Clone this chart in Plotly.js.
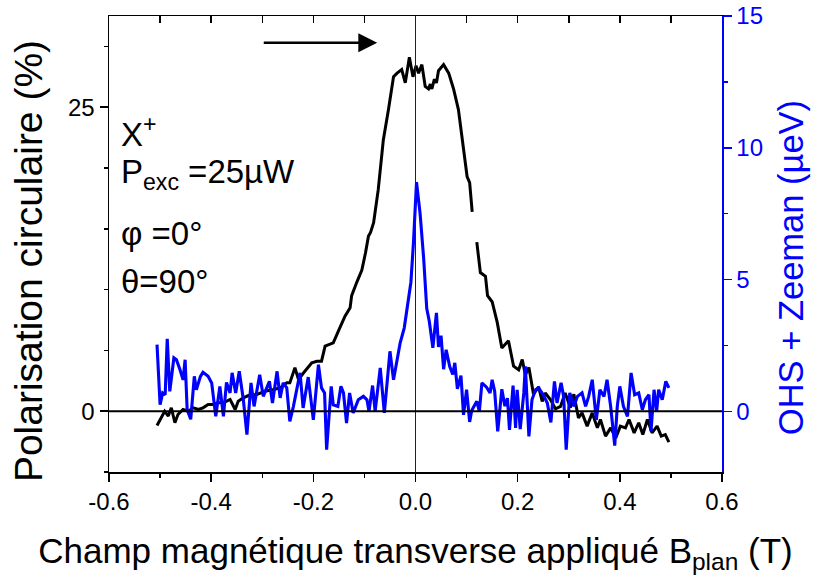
<!DOCTYPE html>
<html>
<head>
<meta charset="utf-8">
<script src="https://cdn.plot.ly/plotly-3.0.1.min.js"></script>
<style>html,body{margin:0;padding:0;background:#fff;}#chart{width:814px;height:583px;}</style>
</head>
<body>
<div id="chart"></div>
<script>
// Circular polarisation (%) vs transverse field (T) — left axis
const fieldPol = [-0.506,-0.497,-0.491,-0.484,-0.478,-0.471,-0.465,-0.455,-0.445,-0.435,-0.425,-0.416,-0.406,-0.396,-0.386,-0.376,-0.363,-0.353,-0.347,-0.337,-0.327,-0.311,-0.295,-0.278,-0.265,-0.252,-0.246,-0.236,-0.229,-0.219,-0.203,-0.193,-0.184,-0.177,-0.167,-0.161,-0.151,-0.138,-0.128,-0.125,-0.115,-0.105,-0.098,-0.092,-0.088,-0.082,-0.073,-0.063,-0.053,-0.043,-0.036,-0.027,-0.020,-0.012,-0.005,0.001,0.006,0.0125,0.019,0.0255,0.029,0.032,0.037,0.041,0.045,0.055,0.065,0.0745,0.084,0.094,0.101,0.106,0.111,0.115,0.120,0.127,0.137,0.141,0.150,0.160,0.169,0.182,0.192,0.202,0.209,0.215,0.222,0.231,0.241,0.248,0.254,0.264,0.274,0.284,0.293,0.303,0.310,0.319,0.326,0.336,0.346,0.356,0.362,0.372,0.382,0.392,0.401,0.411,0.418,0.428,0.437,0.445,0.454,0.463,0.473,0.481,0.489,0.496];
const polarisation = [-1.18,-0.4,0,-0.4,0.28,-0.95,-0.27,0.14,0,0.28,0.14,0.28,0.55,0.55,0.69,0.69,0.96,0.14,0.82,1.1,1.29,1.37,1.64,1.78,1.92,2.33,2.33,3.57,2.6,3.16,3.98,4.11,4.11,5.35,5.48,5.62,6.58,7.81,8.5,9.5,10.6,11.6,13.0,14.4,14.7,15.5,18.2,22.3,24.8,27.5,27.8,28.1,27.0,29.1,27.5,28.4,27.8,28.5,26.7,26.5,26.9,26.5,27.3,27.0,28.0,28.5,27.8,26.5,24.8,21.8,19.3,18.8,16.4,null,13.9,11.4,11.1,9.5,9.0,7.3,5.2,5.8,3.7,3.4,4.25,3.0,3.6,1.4,2.0,0.8,1.5,0.96,0.2,0.4,1.5,0.3,1.4,-0.55,-0.14,-1.23,-0.14,-1.37,-0.68,-2.05,-1.37,-2.19,-1.23,-1.37,-0.68,-1.78,-0.95,-1.92,-0.68,-1.78,-1.23,-2.05,-1.92,-2.55];

// OHS + Zeeman (µeV) vs field (T) — right axis
const fieldOhs = [-0.506,-0.500,-0.495,-0.490,-0.486,-0.481,-0.473,-0.468,-0.461,-0.455,-0.451,-0.447,-0.440,-0.433,-0.429,-0.421,-0.416,-0.406,-0.399,-0.391,-0.383,-0.376,-0.370,-0.363,-0.359,-0.352,-0.345,-0.337,-0.330,-0.322,-0.316,-0.305,-0.298,-0.293,-0.286,-0.280,-0.271,-0.265,-0.259,-0.252,-0.246,-0.239,-0.226,-0.220,-0.210,-0.200,-0.190,-0.184,-0.178,-0.174,-0.165,-0.161,-0.152,-0.146,-0.141,-0.135,-0.129,-0.122,-0.112,-0.102,-0.095,-0.091,-0.084,-0.079,-0.069,-0.061,-0.050,-0.043,-0.030,-0.022,-0.015,-0.009,-0.004,0.002,0.009,0.016,0.022,0.027,0.034,0.041,0.045,0.050,0.055,0.060,0.067,0.073,0.077,0.082,0.089,0.094,0.100,0.106,0.110,0.120,0.125,0.130,0.139,0.146,0.150,0.155,0.161,0.169,0.175,0.180,0.184,0.191,0.196,0.199,0.205,0.212,0.215,0.222,0.228,0.235,0.241,0.250,0.258,0.265,0.272,0.277,0.285,0.290,0.295,0.302,0.310,0.317,0.326,0.333,0.339,0.346,0.354,0.361,0.369,0.375,0.382,0.390,0.395,0.400,0.407,0.415,0.422,0.429,0.437,0.444,0.450,0.457,0.461,0.467,0.472,0.476,0.483,0.490,0.496];
const ohsZeeman = [2.53,0.25,0.7,0.63,2.75,0.76,2.03,1.96,1.58,1.2,1.96,0.06,-0.3,1.33,0.82,1.33,1.48,1.33,1.08,-0.19,0.95,-0.19,1.1,0.7,1.46,0.7,1.52,0.44,-0.88,1.08,0.19,1.39,0.57,0.82,1.14,0.32,1.52,0.51,1.08,0.89,-0.38,0.19,1.46,0.13,1.3,-0.32,1.77,0.89,0.7,-1.45,0.95,0.25,0.19,0.95,0.7,-0.44,0.7,-0.06,0.44,0.57,0.44,0,0.98,0,1.65,-0.06,2.28,1.2,2.6,3.17,4.1,4.9,6.4,8.7,7.5,5.8,3.9,3.42,2.41,3.74,2.45,2.87,1.6,2.34,1.7,1.4,1.84,0.85,1.36,-0.13,0.82,-0.4,0.03,0.38,0,1.08,0.92,0.7,1.2,0.76,-0.76,0.84,0.2,0.5,-0.7,0.98,-0.63,0.82,-0.67,0.7,1.71,-0.95,0.44,0.82,0.89,0.63,0.32,-0.42,1.14,0.32,1.08,0.57,-1.45,0.7,0.19,0.57,0.7,0.19,0.57,1.2,-0.32,0.82,0.57,1.2,0.19,-1.3,0.19,0.95,0.19,-0.19,1.46,0.63,0.7,0.06,0.44,0.63,-0.76,0.82,0,0.82,0.44,1.14,0.89];

// Tick labels
const xTickVals = [-0.6, -0.4, -0.2, 0.0, 0.2, 0.4, 0.6];
const xTickText = ['-0.6', '-0.4', '-0.2', '0.0', '0.2', '0.4', '0.6'];
const yTickVals = [0, 25];
const yTickText = ['0', '25'];
const y2TickVals = [0, 5, 10, 15];
const y2TickText = ['0', '5', '10', '15'];

const FONT = 'Arial, "Liberation Sans", sans-serif';
const BLUE = '#0000ff';

const traces = [
  {x: fieldPol, y: polarisation, type: 'scatter', mode: 'lines', connectgaps: false,
   line: {color: '#000000', width: 3}, xaxis: 'x', yaxis: 'y', hoverinfo: 'skip'},
  {x: fieldOhs, y: ohsZeeman, type: 'scatter', mode: 'lines',
   line: {color: BLUE, width: 3.1}, xaxis: 'x', yaxis: 'y2', hoverinfo: 'skip'},
  {x: fieldPol, y: polarisation, type: 'scatter', mode: 'lines', opacity: 0,
   xaxis: 'x2', yaxis: 'y', hoverinfo: 'skip', showlegend: false}
];

const layout = {
  width: 814, height: 583,
  margin: {l: 109, r: 92, t: 16, b: 111},
  paper_bgcolor: '#ffffff', plot_bgcolor: '#ffffff',
  showlegend: false,
  font: {family: FONT, color: '#000', size: 24},
  xaxis: {
    range: [-0.6, 0.6], tickvals: xTickVals, ticktext: xTickText,
    ticks: 'outside', ticklen: 8, tickwidth: 1.5, tickcolor: '#000',
    minor: {dtick: 0.1, tick0: -0.6, ticks: 'outside', ticklen: 4, tickwidth: 1.5, tickcolor: '#000'},
    showline: true, linecolor: '#000', linewidth: 1.5,
    showgrid: false, zeroline: false,
    tickfont: {size: 24, family: FONT, color: '#000'},
    title: {text: 'Champ magnétique transverse appliqué B<sub>plan</sub> (T)', font: {size: 35, family: FONT, color: '#000'}, standoff: 24}
  },
  xaxis2: {
    overlaying: 'x', side: 'top', range: [-0.6, 0.6], dtick: 0.1, tick0: -0.6,
    ticks: 'inside', ticklen: 7, tickwidth: 1.5, tickcolor: '#000',
    showticklabels: false, showline: true, linecolor: '#000', linewidth: 1.5,
    showgrid: false, zeroline: false
  },
  yaxis: {
    range: [-5, 32.5], tickvals: yTickVals, ticktext: yTickText,
    ticks: 'outside', ticklen: 8, tickwidth: 1.5, tickcolor: '#000',
    minor: {tickvals: [-5, 5, 10, 15, 20, 30], ticks: 'outside', ticklen: 4, tickwidth: 1.5, tickcolor: '#000'},
    showline: true, linecolor: '#000', linewidth: 1.5,
    showgrid: false, zeroline: false,
    tickfont: {size: 24, family: FONT, color: '#000'},
    title: {text: ''}
  },
  yaxis2: {
    overlaying: 'y', side: 'right', range: [-2.3, 15], tickvals: y2TickVals, ticktext: y2TickText,
    ticks: 'outside', ticklen: 8, tickwidth: 1.5, tickcolor: BLUE,
    minor: {dtick: 2.5, tick0: 0, ticks: 'outside', ticklen: 4, tickwidth: 1.5, tickcolor: BLUE},
    showline: true, linecolor: BLUE, linewidth: 1.5,
    showgrid: false, zeroline: false,
    tickfont: {size: 24, family: FONT, color: BLUE},
    title: {text: ''}
  },
  shapes: [
    {type: 'line', xref: 'x', yref: 'paper', x0: 0, x1: 0, y0: 0, y1: 1, line: {color: '#222', width: 1}, layer: 'above'},
    {type: 'line', xref: 'paper', yref: 'y', x0: 0, x1: 1, y0: 0, y1: 0, line: {color: '#000', width: 2}, layer: 'above'}
  ],
  annotations: [
    // y-axis titles (placed as rotated annotations for exact positioning)
    {xref: 'paper', yref: 'paper', x: -0.132, y: 0.4627, xanchor: 'center', yanchor: 'middle',
     textangle: -90, showarrow: false, text: 'Polarisation circulaire (%)',
     font: {size: 39, family: FONT, color: '#000'}},
    {xref: 'paper', yref: 'paper', x: 1.1126, y: 0.447, xanchor: 'center', yanchor: 'middle',
     textangle: -90, showarrow: false, text: 'OHS + Zeeman (µeV)',
     font: {size: 34.5, family: FONT, color: BLUE}},
    // arrow
    {x: -0.075, y: 30.3, ax: -0.3, ay: 30.3, xref: 'x', yref: 'y', axref: 'x', ayref: 'y',
     showarrow: true, arrowhead: 2, arrowsize: 1.45, arrowwidth: 2.6, arrowcolor: '#000', text: ''},
    // labels
    {x: -0.58, y: 23.0, xref: 'x', yref: 'y', xanchor: 'left', yanchor: 'middle', showarrow: false,
     text: 'X<sup>+</sup>', font: {size: 33, family: FONT, color: '#000'}},
    {x: -0.58, y: 19.5, xref: 'x', yref: 'y', xanchor: 'left', yanchor: 'middle', showarrow: false,
     text: 'P<sub>exc</sub> =25µW', font: {size: 33, family: FONT, color: '#000'}},
    {x: -0.58, y: 14.6, xref: 'x', yref: 'y', xanchor: 'left', yanchor: 'middle', showarrow: false,
     text: 'φ =0°', font: {size: 33, family: FONT, color: '#000'}},
    {x: -0.58, y: 10.7, xref: 'x', yref: 'y', xanchor: 'left', yanchor: 'middle', showarrow: false,
     text: 'θ=90°', font: {size: 33, family: FONT, color: '#000'}}
  ]
};

Plotly.newPlot('chart', traces, layout, {staticPlot: true, displayModeBar: false});
</script>
</body>
</html>
